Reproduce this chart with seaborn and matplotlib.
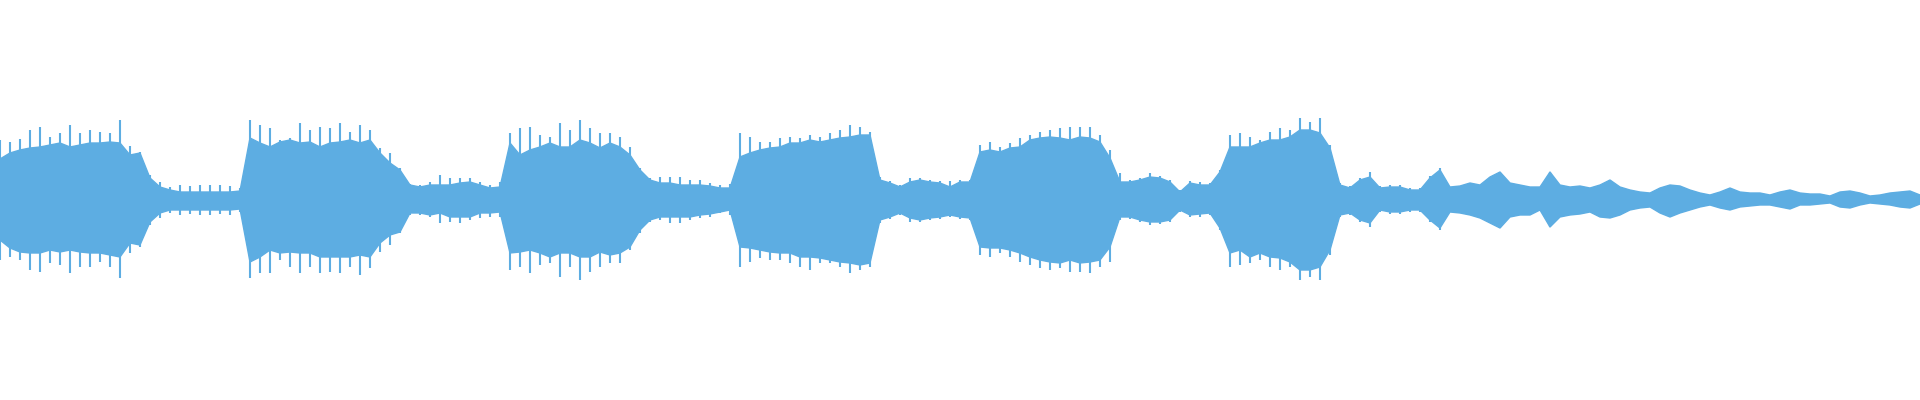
import numpy as np
import pandas as pd
import matplotlib
matplotlib.use('Agg')
import matplotlib.pyplot as plt
import seaborn as sns

# амплитуда в % от полной шкалы, отсчёты через равные промежутки времени
upper = [
    20.5, 23.5, 25, 26, 26.5, 27.5, 28.5, 26.5, 27.5, 28.5,
    28.5, 29, 28.5, 22.5, 23.5, 11, 6.5, 5, 4, 4,
    4, 4, 4, 4, 4.5, 31, 28.5, 26.5, 29, 30,
    28.5, 29, 26.5, 28.5, 29, 30, 28.5, 30, 23.5, 18.5,
    15, 7.5, 6.5, 7.5, 7.5, 7.5, 8.5, 9, 7.5, 6,
    6.5, 28.5, 22.5, 25, 26.5, 28.5, 26.5, 26.5, 30, 28.5,
    26, 28.5, 26.5, 22.5, 15, 10, 8.5, 8.5, 7.5, 7.5,
    7.5, 7, 6, 6, 21.5, 23.5, 25, 26, 26.5, 28.5,
    28.5, 30, 29, 30, 31, 31.5, 32.5, 32.5, 10, 8.5,
    6.5, 9, 10, 9, 8.5, 6.5, 9, 9, 24, 25,
    24, 26, 26.5, 30, 31, 31.5, 31, 30, 31.5, 31,
    29, 21, 9, 9, 10, 11.5, 11, 9, 4, 8.5,
    7.5, 7.5, 14, 26.5, 26.5, 26.5, 28.5, 30, 30, 31.5,
    35, 35, 33.5, 26, 7.5, 6, 10, 11.5, 6, 6.5,
    6.5, 5, 5, 11, 15, 6.5, 7, 8.5, 7.5, 11.5,
    14, 8.5, 7.5, 6.5, 6.5, 14, 7.5, 6.5, 7, 6,
    7.5, 10, 6.5, 5, 4, 3.5, 6, 7.5, 7, 5,
    3.5, 2.5, 4, 6, 4, 3.5, 3.5, 2.5, 4, 5,
    3.5, 3, 3, 2, 4, 4.5, 3.5, 2, 2.5, 3.5,
    4, 4.5, 2.5,
]
lower = [
    20, 24, 26, 26.5, 26.5, 25, 26, 25, 26, 26.5,
    26.5, 27.5, 28.5, 21.5, 22.5, 11, 6.5, 5, 5, 5,
    5, 5, 5, 5, 4.5, 31, 28.5, 25, 26.5, 26,
    26.5, 26.5, 28.5, 28.5, 28.5, 28.5, 27.5, 28.5, 21.5, 17.5,
    16, 6.5, 6.5, 7.5, 6.5, 8.5, 8.5, 8.5, 6.5, 6.5,
    6, 26.5, 26, 25, 26.5, 28.5, 26.5, 26.5, 28.5, 28.5,
    26, 27.5, 26.5, 23.5, 15, 10, 8.5, 8.5, 8.5, 8.5,
    7.5, 7, 6, 5, 23.5, 24, 25, 26, 26.5, 26.5,
    28.5, 28.5, 29, 30, 31, 31.5, 32.5, 31.5, 10, 8.5,
    6.5, 9, 10, 9, 8.5, 7.5, 8.5, 9, 23.5, 24,
    24, 25, 26.5, 28.5, 30, 31, 31.5, 30, 31.5, 31,
    30, 23.5, 8.5, 8.5, 10, 11, 11, 10, 5, 7.5,
    7, 6.5, 14, 26.5, 25, 28.5, 26.5, 28.5, 29, 31,
    35, 35, 33.5, 25, 7.5, 6.5, 10, 11.5, 5, 6,
    6, 5, 5, 10, 14, 6, 6.5, 7.5, 9, 11.5,
    14, 8.5, 7.5, 7.5, 5, 13.5, 8.5, 7.5, 7, 6,
    8.5, 9, 7.5, 5, 4, 3.5, 6.5, 8.5, 6.5, 5,
    3.5, 2.5, 4, 5, 3.5, 3, 2.5, 2.5, 3.5, 4.5,
    2.5, 2.5, 2, 1.5, 3.5, 4, 2.5, 1.5, 2, 2.5,
    3.5, 4, 2,
]
# пики (выбросы) над основной огибающей
peak_up = [
    30, 29, 30.5, 35, 36.5, 31.5, 33.5, 37.5, 33.5, 35,
    34, 33.5, 40, 27, 24, 12.5, 9, 6.5, 7.5, 7,
    7.5, 7.5, 7.5, 7, 6, 40, 37.5, 36, 30, 31,
    38.5, 35, 36.5, 36, 38.5, 34, 37.5, 35, 26, 23.5,
    16, 8, 7.5, 9, 12.5, 11, 11, 11, 9, 7.5,
    9, 33.5, 36, 36.5, 32.5, 31.5, 38.5, 35, 40, 36,
    33.5, 33.5, 31.5, 26.5, 16, 11, 11.5, 11.5, 11.5, 10,
    10, 8.5, 7.5, 8, 33.5, 31.5, 29, 29, 31, 31.5,
    31, 32.5, 31.5, 33.5, 35, 37.5, 36.5, 34, 11.5, 9.5,
    7.5, 11, 11, 10, 9.5, 9.5, 10, 10, 27.5, 29,
    26.5, 28.5, 31, 32.5, 34, 35, 36, 36.5, 36.5, 36.5,
    32.5, 25, 13.5, 10, 11, 13.5, 12, 10, 5, 9.5,
    9, 8.5, 15, 32.5, 33.5, 31.5, 30, 34, 36, 35,
    41, 39, 41, 27.5, 8.5, 7, 11, 14, 7, 7.5,
    7.5, 6, 6, 12, 16, 6.5, 7, 8.5, 7.5, 11.5,
    14, 8.5, 7.5, 6.5, 6.5, 14, 7.5, 6.5, 7, 6,
    7.5, 10, 6.5, 5, 4, 3.5, 6, 7.5, 7, 5,
    3.5, 2.5, 4, 6, 4, 3.5, 3.5, 2.5, 4, 5,
    3.5, 3, 3, 2, 4, 4.5, 3.5, 2, 2.5, 3.5,
    4, 4.5, 2.5,
]
peak_down = [
    30, 28.5, 30, 35, 36, 31.5, 32.5, 36.5, 33.5, 33.5,
    31, 33.5, 39, 26.5, 23.5, 12.5, 9, 6.5, 7.5, 7,
    7.5, 7.5, 7, 7.5, 6, 39, 36.5, 36.5, 30, 33.5,
    36.5, 33.5, 36.5, 36, 36.5, 33.5, 37.5, 34, 26, 22.5,
    16.5, 7.5, 7.5, 8.5, 11.5, 11, 11.5, 10, 9, 8.5,
    8.5, 35, 33.5, 36.5, 32.5, 31.5, 38.5, 33.5, 40, 36,
    33.5, 31.5, 31.5, 25, 16.5, 11, 10, 11.5, 11.5, 10,
    9, 8.5, 6.5, 7.5, 33.5, 31, 29, 30, 30, 31.5,
    33.5, 35, 31.5, 31.5, 33.5, 36.5, 35, 33.5, 11.5, 9.5,
    7.5, 11, 11, 10, 9.5, 8.5, 9.5, 10, 27.5, 28.5,
    26.5, 28.5, 31, 32.5, 34, 35, 34, 36, 36, 36.5,
    33.5, 31, 10, 9.5, 11, 12.5, 12, 11, 6, 8.5,
    8.5, 7.5, 15, 33.5, 32.5, 31.5, 30, 33.5, 35, 33.5,
    40, 38.5, 40, 27.5, 8.5, 7.5, 11, 13.5, 6, 7,
    7, 6, 6, 11, 15, 6, 6.5, 7.5, 9, 11.5,
    14, 8.5, 7.5, 7.5, 5, 13.5, 8.5, 7.5, 7, 6,
    8.5, 9, 7.5, 5, 4, 3.5, 6.5, 8.5, 6.5, 5,
    3.5, 2.5, 4, 5, 3.5, 3, 2.5, 2.5, 3.5, 4.5,
    2.5, 2.5, 2, 1.5, 3.5, 4, 2.5, 1.5, 2, 2.5,
    3.5, 4, 2,
]

wave_color = '#5dade2'
step = 0.05  # секунд между отсчётами огибающей

df = pd.DataFrame({
    'time': np.arange(len(upper)) * step,
    'upper': upper,
    'lower': np.negative(lower),
    'peak_up': peak_up,
    'peak_down': np.negative(peak_down),
})

sns.set_theme(style='white')
fig, ax = plt.subplots(figsize=(19.2, 4), dpi=100)
fig.subplots_adjust(left=0, right=1, bottom=0, top=1)

# основное тело волны
ax.fill_between(df['time'], df['lower'], df['upper'], color=wave_color, linewidth=0)
sns.lineplot(data=df, x='time', y='upper', ax=ax, color=wave_color, linewidth=1)
sns.lineplot(data=df, x='time', y='lower', ax=ax, color=wave_color, linewidth=1)
# тонкие пики
ax.vlines(df['time'], df['peak_down'], df['peak_up'], color=wave_color, linewidth=1.5)

ax.set_xlim(df['time'].iloc[0], df['time'].iloc[-1])
ax.set_ylim(-100, 100)
ax.axis('off')

fig.savefig('out.png', dpi=100, facecolor='white')
